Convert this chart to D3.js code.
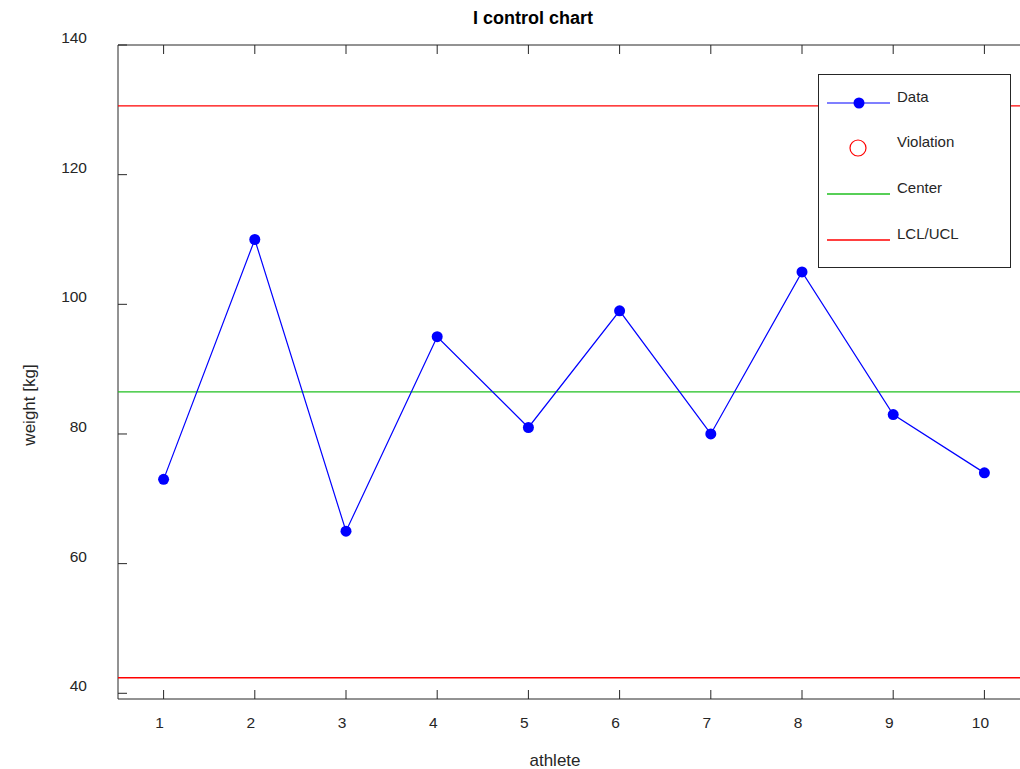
<!DOCTYPE html>
<html>
<head>
<meta charset="utf-8">
<script src="https://cdn.jsdelivr.net/npm/d3@7"></script>
<style>
  body { margin: 0; background: #fff; }
  svg text { font-family: "Liberation Sans", Arial, sans-serif; fill: #262626; }
</style>
</head>
<body>
<script>
"use strict";

// data
var athletes = [1, 2, 3, 4, 5, 6, 7, 8, 9, 10];
var weights = [73, 110, 65, 95, 81, 99, 80, 105, 83, 74];
var center = 86.5;
var limits = [42.4, 130.6];   // LCL, UCL
var yTicks = [40, 60, 80, 100, 120, 140];
var legendLabels = ["Data", "Violation", "Center", "LCL/UCL"];

var W = 1020, H = 769;
var plotLeft = 118, plotTop = 45, plotBottom = 699, plotRight = 1030;

var x = d3.scaleLinear().domain([0.5, 10.5]).range([plotLeft, plotRight]);
var y = d3.scaleLinear().domain([39.12, 140]).range([plotBottom, plotTop]);

var svg = d3.select("body").append("svg")
    .attr("width", W)
    .attr("height", H);

var axisColor = "#262626";

// axes frame (left, bottom, top)
svg.append("line").attr("x1", plotLeft).attr("x2", plotLeft).attr("y1", plotTop).attr("y2", plotBottom)
    .attr("stroke", axisColor).attr("stroke-width", 1);
svg.append("line").attr("x1", plotLeft).attr("x2", plotRight).attr("y1", plotBottom).attr("y2", plotBottom)
    .attr("stroke", axisColor).attr("stroke-width", 1);
svg.append("line").attr("x1", plotLeft).attr("x2", plotRight).attr("y1", plotTop).attr("y2", plotTop)
    .attr("stroke", axisColor).attr("stroke-width", 1);

// x ticks (bottom and top, pointing inward)
var xt = svg.append("g");
athletes.forEach(function(d) {
    xt.append("line").attr("x1", x(d)).attr("x2", x(d)).attr("y1", plotBottom).attr("y2", plotBottom - 9)
        .attr("stroke", axisColor);
    xt.append("line").attr("x1", x(d)).attr("x2", x(d)).attr("y1", plotTop).attr("y2", plotTop + 9)
        .attr("stroke", axisColor);
    xt.append("text")
        .attr("x", x(d) - 4)
        .attr("y", 728)
        .attr("text-anchor", "middle")
        .style("font-size", "15.5px")
        .text(d);
});

// y ticks
var yt = svg.append("g");
yTicks.forEach(function(d) {
    yt.append("line").attr("x1", plotLeft).attr("x2", plotLeft + 9).attr("y1", y(d)).attr("y2", y(d))
        .attr("stroke", axisColor);
    yt.append("text")
        .attr("x", 87)
        .attr("y", y(d) - 2)
        .attr("text-anchor", "end")
        .style("font-size", "15.5px")
        .text(d);
});

// control lines
var lineG = svg.append("g");
lineG.append("line").attr("x1", plotLeft).attr("x2", plotRight)
    .attr("y1", y(center)).attr("y2", y(center))
    .attr("stroke", "#1fbf1f").attr("stroke-width", 1.3);
limits.forEach(function(v) {
    lineG.append("line").attr("x1", plotLeft).attr("x2", plotRight)
        .attr("y1", y(v)).attr("y2", y(v))
        .attr("stroke", "#ff0000").attr("stroke-width", 1.3);
});

// data line + markers
var line = d3.line()
    .x(function(d, i) { return x(athletes[i]); })
    .y(function(d) { return y(d); });

svg.append("path")
    .datum(weights)
    .attr("fill", "none")
    .attr("stroke", "#0000ff")
    .attr("stroke-width", 1.2)
    .attr("d", line);

svg.selectAll(".dot")
    .data(weights)
    .enter().append("circle")
    .attr("class", "dot")
    .attr("cx", function(d, i) { return x(athletes[i]); })
    .attr("cy", function(d) { return y(d); })
    .attr("r", 5.5)
    .attr("fill", "#0000ff");

// legend
var lg = svg.append("g");
lg.append("rect")
    .attr("x", 818.5).attr("y", 74.5)
    .attr("width", 192).attr("height", 193)
    .attr("fill", "#fff").attr("stroke", axisColor).attr("stroke-width", 1);

var rows = [103, 148, 194, 240];
lg.append("line").attr("x1", 827).attr("x2", 890).attr("y1", rows[0]).attr("y2", rows[0])
    .attr("stroke", "#0000ff").attr("stroke-width", 1.2);
lg.append("circle").attr("cx", 859).attr("cy", rows[0]).attr("r", 5.5).attr("fill", "#0000ff");
lg.append("circle").attr("cx", 858).attr("cy", rows[1]).attr("r", 8)
    .attr("fill", "none").attr("stroke", "#ff0000").attr("stroke-width", 1.2);
lg.append("line").attr("x1", 827).attr("x2", 890).attr("y1", rows[2]).attr("y2", rows[2])
    .attr("stroke", "#1fbf1f").attr("stroke-width", 1.3);
lg.append("line").attr("x1", 827).attr("x2", 890).attr("y1", rows[3]).attr("y2", rows[3])
    .attr("stroke", "#ff0000").attr("stroke-width", 1.3);

legendLabels.forEach(function(t, i) {
    lg.append("text")
        .attr("x", 897)
        .attr("y", rows[i] - 1)
        .style("font-size", "15px")
        .text(t);
});

// title and axis labels
svg.append("text")
    .attr("x", 533).attr("y", 24)
    .attr("text-anchor", "middle")
    .style("font-size", "18px")
    .style("font-weight", "bold")
    .style("fill", "#000")
    .text("I control chart");

svg.append("text")
    .attr("x", 555).attr("y", 766)
    .attr("text-anchor", "middle")
    .style("font-size", "17px")
    .text("athlete");

svg.append("text")
    .attr("transform", "translate(35," + 405 + ") rotate(-90)")
    .attr("text-anchor", "middle")
    .style("font-size", "17px")
    .text("weight [kg]");
</script>
</body>
</html>
